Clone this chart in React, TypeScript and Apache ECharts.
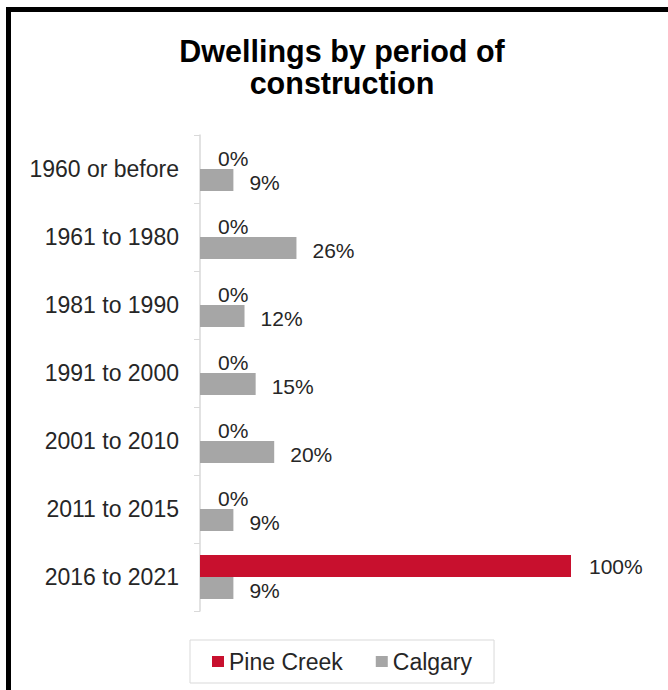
import React, { useEffect, useRef } from "react";
import * as echarts from "echarts";

const categories = [
  "1960 or before",
  "1961 to 1980",
  "1981 to 1990",
  "1991 to 2000",
  "2001 to 2010",
  "2011 to 2015",
  "2016 to 2021",
];
const pineCreek = [0, 0, 0, 0, 0, 0, 100];
const calgary = [9, 26, 12, 15, 20, 9, 9];
const seriesNames = ["Pine Creek", "Calgary"];
const titleText = "Dwellings by period of\nconstruction";

const FONT = "'Liberation Sans', Arial, sans-serif";

export default function App() {
  const ref = useRef<HTMLDivElement>(null);
  useEffect(() => {
    if (!ref.current) return;
    const chart = echarts.init(ref.current, null, { renderer: "svg" });
    chart.setOption({
      animation: false,
      backgroundColor: "#ffffff",
      textStyle: { fontFamily: FONT },
      title: {
        text: titleText,
        left: 342,
        top: 35,
        textAlign: "center",
        padding: 0,
        textStyle: {
          fontFamily: FONT,
          fontSize: 30.5,
          fontWeight: "bold",
          lineHeight: 32,
          color: "#000000",
        },
      },
      graphic: [
        {
          type: "rect",
          z: -10,
          silent: true,
          shape: { x: 8.5, y: 9.5, width: 720, height: 720 },
          style: { fill: "none", stroke: "#000000", lineWidth: 5 },
        },
      ],
      legend: {
        left: 190,
        top: 640,
        padding: [10, 22],
        itemWidth: 12,
        itemHeight: 11,
        itemGap: 33,
        icon: "rect",
        borderColor: "#d9d9d9",
        borderWidth: 1,
        data: seriesNames,
        textStyle: { fontFamily: FONT, fontSize: 23, color: "#262626" },
      },
      grid: { left: 200, right: 97, top: 135, bottom: 79, containLabel: false },
      xAxis: {
        type: "value",
        min: 0,
        max: 100,
        show: false,
        splitLine: { show: false },
      },
      yAxis: {
        type: "category",
        data: categories,
        inverse: true,
        axisLine: { show: true, lineStyle: { color: "#d9d9d9", width: 1.5 } },
        axisTick: { show: true, length: 6, lineStyle: { color: "#d9d9d9" } },
        axisLabel: {
          margin: 21,
          fontFamily: FONT,
          fontSize: 23,
          color: "#262626",
        },
      },
      series: [
        {
          name: seriesNames[0],
          type: "bar",
          data: pineCreek,
          barWidth: 22,
          barGap: "0%",
          itemStyle: { color: "#c8102e" },
          label: {
            show: true,
            position: "right",
            distance: 18,
            formatter: "{c}%",
            fontFamily: FONT,
            fontSize: 21,
            color: "#262626",
          },
        },
        {
          name: seriesNames[1],
          type: "bar",
          data: calgary,
          barWidth: 22,
          barGap: "0%",
          itemStyle: { color: "#a6a6a6" },
          label: {
            show: true,
            position: "right",
            distance: 16,
            offset: [0, 2],
            formatter: "{c}%",
            fontFamily: FONT,
            fontSize: 21,
            color: "#262626",
          },
        },
      ],
    });
    return () => chart.dispose();
  }, []);
  return (
    <div
      ref={ref}
      style={{ position: "absolute", left: 0, top: 0, width: 668, height: 690 }}
    />
  );
}
